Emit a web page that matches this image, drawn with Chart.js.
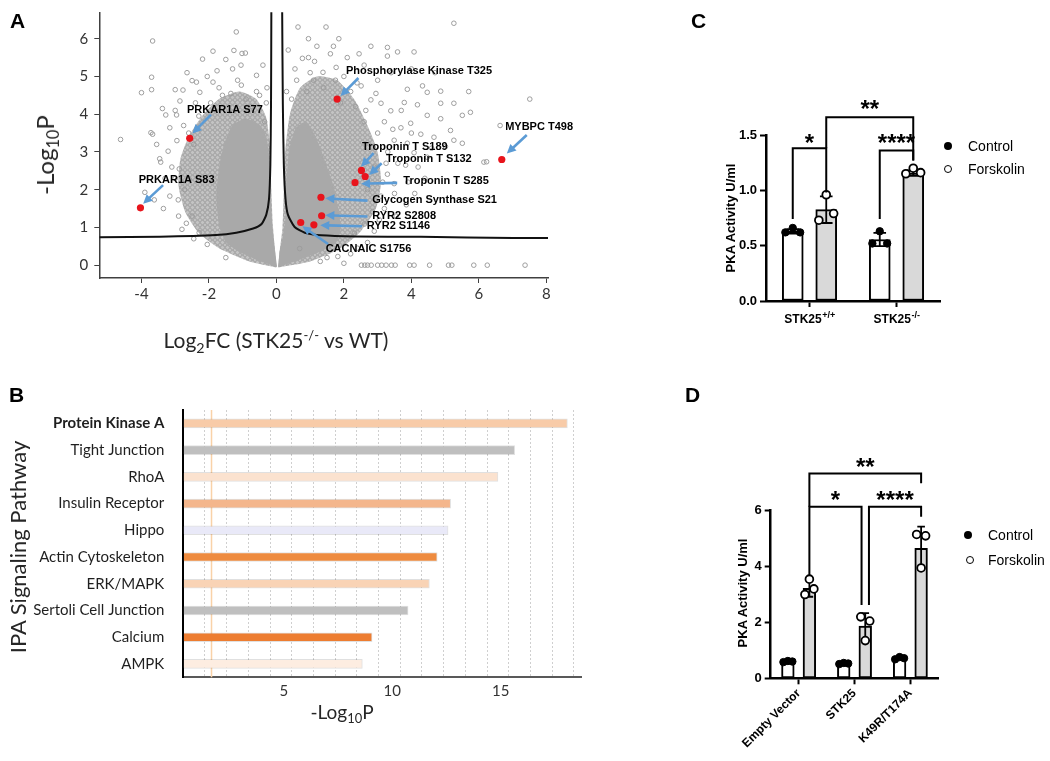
<!DOCTYPE html>
<html>
<head>
<meta charset="utf-8">
<script src="https://cdn.jsdelivr.net/npm/chart.js@4.4.1/dist/chart.umd.min.js"></script>
<style>
  body { margin: 0; width: 1050px; height: 761px; position: relative; overflow: hidden; background: #fff; font-family: "Liberation Sans", Arial, sans-serif; }
  canvas { position: absolute; }
  .t { position: absolute; white-space: nowrap; line-height: 1; }
  .rot { transform: translate(-50%, -50%) rotate(-90deg); }
  .ctr { transform: translate(-50%, -50%); }
  .sub { font-size: 0.68em; position: relative; top: 0.32em; }
  .sup { font-size: 0.62em; position: relative; top: -0.6em; }
  .panel { font: bold 21px "Liberation Sans", Arial, sans-serif; }
  .lato { font-family: Lato, "Open Sans", sans-serif; color: #262626; }
  .lg { font: 14px "Liberation Sans", Arial, sans-serif; transform: translateY(-50%); }
  .dot { position: absolute; width: 8px; height: 8px; border-radius: 50%; background: #000; transform: translate(-50%, -50%); }
  .ring { position: absolute; width: 6px; height: 6px; border-radius: 50%; border: 1.8px solid #000; background: #fff; transform: translate(-50%, -50%); }
  .ytl { font: bold 13px "Liberation Sans", Arial, sans-serif; }
</style>
</head>
<body>
<canvas id="volcano" width="600" height="380" style="left:0;top:-20px"></canvas>
<canvas id="ipa" width="600" height="401" style="left:0;top:360px"></canvas>
<canvas id="pkaC" width="370" height="360" style="left:680px;top:0"></canvas>
<canvas id="pkaD" width="370" height="401" style="left:680px;top:360px"></canvas>

<div class="t panel" style="left:10px;top:9px">A</div>
<div class="t panel" style="left:691px;top:9px">C</div>
<div class="t panel" style="left:9px;top:383px">B</div>
<div class="t panel" style="left:685px;top:383px">D</div>

<div class="t lato rot" style="left:45px;top:155px;font-size:24px">-Log<span class="sub">10</span>P</div>
<div class="t lato ctr" style="left:276px;top:340px;font-size:21px">Log<span class="sub">2</span>FC (STK25<span class="sup">-/-</span> vs WT)</div>
<div class="t lato rot" style="left:18px;top:547px;font-size:22px">IPA Signaling Pathway</div>
<div class="t lato ctr" style="left:342px;top:711px;font-size:19px">-Log<span class="sub">10</span>P</div>

<div class="t ytl rot" style="left:730px;top:218px">PKA Activity U/ml</div>
<div class="t ytl rot" style="left:742px;top:593px">PKA Activity U/ml</div>

<div class="dot" style="left:948px;top:146px"></div>
<div class="t lg" style="left:968px;top:146px">Control</div>
<div class="ring" style="left:948px;top:169px"></div>
<div class="t lg" style="left:968px;top:169px">Forskolin</div>

<div class="dot" style="left:968px;top:535px"></div>
<div class="t lg" style="left:988px;top:535px">Control</div>
<div class="ring" style="left:970px;top:560px"></div>
<div class="t lg" style="left:988px;top:560px">Forskolin</div>

<script>
// ---------- A: volcano plot ----------
const volcanoTicksX = [-4, -2, 0, 2, 4, 6, 8];
const volcanoTicksY = [0, 1, 2, 3, 4, 5, 6];

// solid core of the point cloud (outline)
const leftCoreX = [0.02, -0.50, -1.09, -1.49, -1.69, -1.78, -1.69, -1.54, -1.29, -0.90, -0.50, -0.30, -0.19, -0.16, -0.11, -0.05];
const leftCoreY = [-0.05, 0.11, 0.35, 0.60, 1.01, 1.83, 2.65, 3.23, 3.72, 3.88, 3.72, 3.39, 2.65, 1.60, 0.93, 0.43];
const rightCoreX = [0.05, 0.58, 1.27, 1.76, 1.90, 1.85, 1.70, 1.45, 1.17, 0.88, 0.58, 0.38, 0.29, 0.27, 0.19, 0.09];
const rightCoreY = [-0.05, 0.11, 0.35, 0.60, 0.93, 1.42, 2.08, 2.73, 3.39, 3.80, 3.64, 3.06, 2.08, 1.26, 0.76, 0.35];
// semi-dense fringe of overlapping sites
const leftHaloX = [0, -0.8, -1.7, -2.3, -2.7, -2.9, -2.85, -2.6, -2.2, -1.7, -1.1, -0.6, -0.3, -0.18, -0.15, -0.1, -0.04];
const leftHaloY = [-0.06, 0.1, 0.45, 0.85, 1.4, 2.1, 2.8, 3.4, 3.95, 4.4, 4.6, 4.4, 3.9, 3.0, 2.0, 1.0, 0.4];
const rightHaloX = [0.05, 1.0, 1.9, 2.5, 2.95, 3.1, 3.0, 2.7, 2.3, 1.8, 1.2, 0.7, 0.4, 0.26, 0.22, 0.18, 0.1];
const rightHaloY = [-0.06, 0.1, 0.45, 0.9, 1.5, 2.2, 3.0, 3.7, 4.4, 4.9, 5.0, 4.7, 4.0, 3.0, 2.0, 1.0, 0.4];

// individual sites outside the dense cloud [log2FC, -log10P]
const volcanoPoints = [
  [-1.19, 6.18], [-3.67, 5.94], [-1.88, 5.67], [-1.26, 5.69], [-1.02, 5.61], [-0.92, 5.62], [-2.19, 5.46], [-1.30, 5.20],
  [-1.76, 5.15], [-3.70, 4.98], [-0.59, 5.03], [-4.00, 4.57], [-3.70, 4.65], [-2.37, 4.85], [-1.88, 4.85], [-1.04, 4.77],
  [-0.59, 4.60], [-2.77, 4.64], [-2.50, 4.89], [-3.38, 4.15], [-3.28, 3.98], [-2.86, 4.35], [-2.27, 4.58], [-4.62, 3.33],
  [-3.72, 3.51], [-3.67, 3.47], [-3.16, 3.64], [-2.96, 3.98], [-3.21, 3.02], [-3.46, 2.82], [-3.43, 2.73], [-3.90, 1.93],
  [-3.62, 1.73], [-3.16, 1.83], [-2.67, 1.11], [-2.91, 1.73], [-2.29, 0.86], [-2.88, 2.55], [-2.59, 2.28], [-2.72, 2.00],
  [-2.45, 3.20], [-2.60, 3.50], [-2.10, 4.10], [-0.30, 4.30], [-0.35, 3.80], [-1.60, 4.50], [-2.95, 3.30], [-3.00, 2.30],
  [-2.50, 1.30], [-2.05, 0.55], [-1.50, 0.20], [-0.90, 4.40], [-0.50, 4.50],
  [-2.90, 1.30], [-3.10, 2.60], [-2.75, 3.70], [-2.30, 3.95], [-1.95, 4.30], [-1.70, 4.70], [-1.35, 4.55], [-1.15, 4.90],
  [-0.75, 4.20], [-0.28, 4.70], [-3.30, 2.30], [-3.55, 3.20], [-2.40, 4.30], [-3.00, 4.10], [-3.35, 1.50], [-2.80, 0.95],
  [-2.45, 0.70], [-1.05, 5.30], [-0.40, 5.30], [-1.50, 5.45], [-2.05, 5.00], [-2.65, 5.10], [-3.00, 4.65],
  [5.26, 6.41], [1.47, 6.31], [0.64, 6.31], [1.69, 5.80], [0.77, 5.48], [3.29, 5.77], [3.59, 5.65], [4.08, 5.65],
  [3.29, 5.54], [1.13, 5.40], [1.77, 5.24], [1.38, 5.11], [2.39, 4.83], [2.51, 4.75], [3.88, 4.66], [4.33, 4.75],
  [4.47, 4.58], [4.87, 4.61], [5.70, 4.60], [5.26, 4.29], [4.87, 4.29], [4.18, 4.25], [3.79, 4.31], [3.39, 4.09],
  [3.10, 4.29], [2.80, 4.38], [5.75, 4.05], [5.51, 3.97], [4.87, 3.88], [4.47, 3.97], [3.98, 3.76], [3.69, 3.64],
  [5.16, 3.57], [5.26, 3.31], [4.67, 3.39], [4.28, 3.47], [3.88, 3.23], [3.49, 3.31], [5.01, 3.14], [5.51, 3.23],
  [6.15, 2.73], [4.08, 2.98], [4.47, 2.86], [3.83, 2.65], [3.29, 2.41], [3.49, 2.16], [3.10, 1.83], [2.85, 1.42],
  [2.61, 1.09], [2.31, 0.85], [1.82, 0.23], [0.69, 0.44], [7.51, 4.40], [6.63, 3.70], [6.23, 2.74],
  [0.60, 4.90], [0.90, 4.60], [1.00, 5.10], [1.40, 4.70], [0.45, 4.40], [2.00, 5.00], [1.60, 5.60], [2.60, 5.30],
  [3.00, 4.90], [2.20, 4.60], [1.20, 5.80], [0.95, 5.50], [3.30, 3.00], [3.00, 3.50], [3.60, 2.70], [3.90, 2.20],
  [3.20, 1.50], [2.90, 0.90], [3.50, 1.90], [4.20, 2.60], [4.00, 3.50], [3.70, 4.10], [2.40, 0.45], [1.30, 0.10],
  [2.00, 0.05], [2.60, 3.80], [2.90, 2.60], [2.70, 2.00], [1.90, 4.30],
  [0.30, 4.60], [0.55, 5.20], [0.35, 5.70], [1.10, 4.90], [1.75, 4.90], [2.35, 4.20], [2.65, 4.10], [2.95, 4.55],
  [3.20, 3.80], [3.45, 3.60], [3.25, 2.70], [3.15, 2.20], [3.05, 1.20], [2.70, 0.60], [2.20, 0.30], [1.50, 0.20],
  [3.55, 1.30], [3.85, 1.60], [4.10, 1.90], [4.40, 2.30], [4.60, 3.10], [2.45, 5.60], [2.10, 5.50], [1.85, 6.00],
  [0.95, 6.00], [2.80, 5.80], [4.70, 5.10], [4.00, 5.20], [3.40, 5.10],
  [2.52, 0], [2.62, 0], [2.70, 0], [2.81, 0], [3.00, 0], [3.12, 0], [3.25, 0], [3.41, 0], [3.52, 0],
  [3.95, 0], [4.08, 0], [4.54, 0], [5.10, 0], [5.20, 0], [5.85, 0], [6.25, 0], [7.37, 0]
];

// significance threshold curves
const threshLeftX = [-5.25, -3.46, -1.78, -1.19, -0.69, -0.44, -0.30, -0.22, -0.18, -0.16, -0.15];
const threshLeftY = [0.74, 0.755, 0.80, 0.86, 0.97, 1.09, 1.34, 1.75, 2.65, 4.29, 6.80];
const threshRightX = [0.17, 0.19, 0.22, 0.27, 0.34, 0.54, 0.84, 1.33, 2.31, 4.28, 7.03, 8.05];
const threshRightY = [6.80, 4.29, 2.65, 1.75, 1.34, 1.01, 0.86, 0.79, 0.76, 0.75, 0.72, 0.72];

// highlighted PKA-related sites
const hitNames = ['PRKAR1A S83', 'PRKAR1A S77', 'Phosphorylase Kinase T325', 'MYBPC T498', 'Troponin T S189', 'Troponin T S132',
  'Troponin T S285', 'Glycogen Synthase S21', 'RYR2 S2808', 'RYR2 S1146', 'CACNAIC S1756'];
const hitX = [-4.03, -2.57, 1.80, 6.68, 2.52, 2.63, 2.33, 1.32, 1.34, 1.11, 0.72];
const hitY = [1.52, 3.36, 4.40, 2.80, 2.51, 2.35, 2.19, 1.80, 1.31, 1.07, 1.13];
// label anchor (tx, ty), arrow tail (ax, ay) and arrow head (hx, hy) in axis units
const hitNotes = [
  { tx: -4.08, ty: 2.27, ax: -3.36, ay: 2.12, hx: -3.95, hy: 1.63 },
  { tx: -2.65, ty: 4.12, ax: -1.94, ay: 3.99, hx: -2.49, hy: 3.49 },
  { tx: 2.06, ty: 5.15, ax: 2.43, ay: 4.96, hx: 1.90, hy: 4.48 },
  { tx: 6.78, ty: 3.67, ax: 7.42, ay: 3.45, hx: 6.83, hy: 2.96 },
  { tx: 2.54, ty: 3.13, ax: 2.88, ay: 2.97, hx: 2.51, hy: 2.61 },
  { tx: 3.25, ty: 2.81, ax: 3.12, ay: 2.70, hx: 2.75, hy: 2.39 },
  { tx: 3.76, ty: 2.24, ax: 3.58, ay: 2.18, hx: 2.51, hy: 2.16 },
  { tx: 2.84, ty: 1.73, ax: 2.70, ay: 1.71, hx: 1.45, hy: 1.77 },
  { tx: 2.84, ty: 1.31, ax: 2.70, ay: 1.29, hx: 1.45, hy: 1.32 },
  { tx: 2.68, ty: 1.04, ax: 2.54, ay: 1.03, hx: 1.30, hy: 1.06 },
  { tx: 1.46, ty: 0.44, ax: 1.53, ay: 0.56, hx: 0.77, hy: 1.03 }
];

// ---------- B: IPA pathways ----------
const pathways = ['Protein Kinase A', 'Tight Junction', 'RhoA', 'Insulin Receptor', 'Hippo', 'Actin Cytoskeleton',
  'ERK/MAPK', 'Sertoli Cell Junction', 'Calcium', 'AMPK'];
const pathwayLogP = [17.7, 15.27, 14.5, 12.32, 12.2, 11.7, 11.34, 10.36, 8.7, 8.25];
const pathwayColors = ['#f8cba8', '#bfbfbf', '#fbe2cf', '#f4b68c', '#e9e9f8', '#ee8b3f', '#f9d3b5', '#bfbfbf', '#ed7d31', '#fdede1'];
const ipaTickLabels = [5, 10, 15];
const ipaThreshold = 1.3;

// ---------- C: PKA activity, STK25 knockout ----------
const cGroups = ['STK25', 'STK25'];
const cGroupSup = ['+/+', '-/-'];
const cControlMean = [0.63, 0.556];
const cControlSD = [0.02, 0.06];
const cControlPts = [[0.62, 0.66, 0.62], [0.52, 0.63, 0.52]];
const cForskMean = [0.825, 1.155];
const cForskSD = [0.12, 0.025];
const cForskPts = [[0.73, 0.96, 0.79], [1.15, 1.20, 1.16]];
const cTicks = [0, 0.5, 1.0, 1.5];
const cBrackets = [
  { from: [0, 0], to: [0, 1], y: 1.38, legs: [0.74, 0.98], text: '*', textY: 1.47 },
  { from: [0, 1], to: [1, 1], y: 1.66, legs: [1.38, 1.27], text: '**', textY: 1.78 },
  { from: [1, 0], to: [1, 1], y: 1.36, legs: [0.74, 1.27], text: '****', textY: 1.47 }
];

// ---------- D: PKA activity, STK25 overexpression ----------
const dGroups = ['Empty Vector', 'STK25', 'K49R/T174A'];
const dControlMean = [0.6, 0.53, 0.72];
const dControlSD = [0.03, 0.03, 0.05];
const dControlPts = [[0.58, 0.62, 0.6], [0.51, 0.55, 0.53], [0.68, 0.76, 0.72]];
const dForskMean = [3.22, 1.87, 4.65];
const dForskSD = [0.3, 0.46, 0.78];
const dForskPts = [[3.0, 3.55, 3.2], [2.2, 1.35, 2.05], [5.15, 3.95, 5.1]];
const dTicks = [0, 2, 4, 6];
const dBrackets = [
  { from: [0, 1], to: [2, 1], y: 7.33, legs: [6.14, 6.98], text: '**', textY: 7.75 },
  { from: [0, 1], to: [1, 1, -3.7], y: 6.14, legs: [3.7, 2.62], text: '*', textY: 6.56 },
  { from: [1, 1, 3.7], to: [2, 1], y: 6.14, legs: [2.62, 5.78], text: '****', textY: 6.56 }
];

const zip = (xs, ys) => xs.map((x, i) => ({ x, y: ys[i] }));
const fixTicks = vals => s => { s.ticks = vals.map(v => ({ value: v })); };

// texture of overlapping open markers for the semi-dense fringe
function markerTexture(ctx) {
  const tile = document.createElement('canvas');
  tile.width = tile.height = 5;
  const g = tile.getContext('2d');
  g.fillStyle = '#c4c4c4';
  g.fillRect(0, 0, 5, 5);
  g.strokeStyle = '#a2a2a2';
  g.lineWidth = 1;
  g.beginPath();
  g.arc(2.5, 2.5, 2.1, 0, Math.PI * 2);
  g.stroke();
  return ctx.createPattern(tile, 'repeat');
}

// ----- plugins -----
const volcanoNotes = {
  id: 'volcanoNotes',
  afterDatasetsDraw(chart) {
    const { ctx, scales: { x, y } } = chart;
    ctx.save();
    hitNotes.forEach((n, i) => {
      const x1 = x.getPixelForValue(n.ax), y1 = y.getPixelForValue(n.ay);
      const x2 = x.getPixelForValue(n.hx), y2 = y.getPixelForValue(n.hy);
      const a = Math.atan2(y2 - y1, x2 - x1), c = Math.cos(a), s = Math.sin(a);
      ctx.strokeStyle = '#5b9bd5';
      ctx.fillStyle = '#5b9bd5';
      ctx.lineWidth = 2.6;
      ctx.beginPath();
      ctx.moveTo(x1, y1);
      ctx.lineTo(x2 - 7 * c, y2 - 7 * s);
      ctx.stroke();
      ctx.beginPath();
      ctx.moveTo(x2, y2);
      ctx.lineTo(x2 - 9 * c + 4.5 * s, y2 - 9 * s - 4.5 * c);
      ctx.lineTo(x2 - 9 * c - 4.5 * s, y2 - 9 * s + 4.5 * c);
      ctx.closePath();
      ctx.fill();
      ctx.fillStyle = '#000';
      ctx.font = 'bold 11px "Liberation Sans", Arial';
      ctx.textBaseline = 'middle';
      ctx.fillText(hitNames[i], x.getPixelForValue(n.tx), y.getPixelForValue(n.ty));
    });
    ctx.restore();
  }
};

const thresholdLine = {
  id: 'thresholdLine',
  beforeDatasetsDraw(chart) {
    const { ctx, chartArea, scales: { x } } = chart;
    const px = x.getPixelForValue(ipaThreshold);
    ctx.save();
    ctx.strokeStyle = '#f9d2a8';
    ctx.lineWidth = 1.5;
    ctx.beginPath();
    ctx.moveTo(px, chartArea.top);
    ctx.lineTo(px, chartArea.bottom);
    ctx.stroke();
    ctx.restore();
  }
};

const errorBars = {
  id: 'errorBars',
  afterDatasetDraw(chart, args) {
    const ds = chart.data.datasets[args.index];
    if (!ds.sd) return;
    const { ctx, scales: { y } } = chart;
    ctx.save();
    ctx.strokeStyle = '#000';
    ctx.lineWidth = 1.8;
    args.meta.data.forEach((bar, i) => {
      const m = ds.data[i].y, s = ds.sd[i];
      const top = y.getPixelForValue(m + s), bot = y.getPixelForValue(m - s);
      const cw = bar.width * 0.3;
      ctx.beginPath();
      ctx.moveTo(bar.x, top); ctx.lineTo(bar.x, bot);
      ctx.moveTo(bar.x - cw, top); ctx.lineTo(bar.x + cw, top);
      ctx.moveTo(bar.x - cw, bot); ctx.lineTo(bar.x + cw, bot);
      ctx.stroke();
    });
    ctx.restore();
  }
};

const brackets = {
  id: 'brackets',
  afterDraw(chart, args, opts) {
    const { ctx, scales: { x, y } } = chart;
    const px = p => x.getPixelForValue(p[0] + (p[1] ? 1 : -1) * opts.off) + (p[2] || 0);
    ctx.save();
    ctx.strokeStyle = '#000';
    ctx.fillStyle = '#000';
    ctx.lineWidth = 2;
    ctx.font = 'bold 24px "Liberation Sans", Arial';
    ctx.textAlign = 'center';
    ctx.textBaseline = 'alphabetic';
    opts.items.forEach(b => {
      const x1 = px(b.from), x2 = px(b.to), yt = y.getPixelForValue(b.y);
      ctx.beginPath();
      ctx.moveTo(x1, y.getPixelForValue(b.legs[0]));
      ctx.lineTo(x1, yt);
      ctx.lineTo(x2, yt);
      ctx.lineTo(x2, y.getPixelForValue(b.legs[1]));
      ctx.stroke();
      ctx.fillText(b.text, (x1 + x2) / 2, y.getPixelForValue(b.textY) + 13);
    });
    ctx.restore();
  }
};

const supLabels = {
  id: 'supLabels',
  afterDraw(chart, args, opts) {
    if (!opts.base) return;
    const { ctx, scales: { x } } = chart;
    ctx.save();
    ctx.fillStyle = '#000';
    ctx.textBaseline = 'alphabetic';
    opts.base.forEach((b, i) => {
      const cx = x.getPixelForValue(i);
      ctx.font = 'bold 12px "Liberation Sans", Arial';
      const w1 = ctx.measureText(b).width;
      ctx.font = 'bold 9px "Liberation Sans", Arial';
      const w2 = ctx.measureText(opts.sup[i]).width;
      const x0 = cx - (w1 + w2) / 2, yb = x.top + 22;
      ctx.font = 'bold 12px "Liberation Sans", Arial';
      ctx.fillText(b, x0, yb);
      ctx.font = 'bold 9px "Liberation Sans", Arial';
      ctx.fillText(opts.sup[i], x0 + w1 + 0.5, yb - 5);
    });
    ctx.restore();
  }
};

const base = { responsive: false, animation: false, devicePixelRatio: 1, events: [] };
const noLegend = { legend: { display: false }, tooltip: { enabled: false } };

// ----- A -----
const volcanoCanvas = document.getElementById('volcano');
const fringe = markerTexture(volcanoCanvas.getContext('2d'));
const lineSet = (xs, ys, extra) => Object.assign({ type: 'line', data: zip(xs, ys), pointRadius: 0, borderWidth: 0, tension: 0.2 }, extra);
new Chart(volcanoCanvas, {
  type: 'scatter',
  data: {
    datasets: [
      { data: zip(hitX, hitY), pointRadius: 3.6, pointBackgroundColor: '#e8141c', pointBorderWidth: 0, order: 0 },
      lineSet(threshLeftX, threshLeftY, { borderColor: '#111', borderWidth: 2, fill: false, order: 1 }),
      lineSet(threshRightX, threshRightY, { borderColor: '#111', borderWidth: 2, fill: false, order: 1 }),
      { data: volcanoPoints.map(([x, y]) => ({ x, y })), pointRadius: 2.3, pointBorderWidth: 1,
        pointBorderColor: '#9d9d9d', pointBackgroundColor: 'rgba(255,255,255,0)', order: 2 },
      lineSet(leftCoreX, leftCoreY, { fill: 'shape', backgroundColor: '#a9a9a9', order: 3 }),
      lineSet(rightCoreX, rightCoreY, { fill: 'shape', backgroundColor: '#a9a9a9', order: 3 }),
      lineSet(leftHaloX, leftHaloY, { fill: 'shape', backgroundColor: fringe, order: 4 }),
      lineSet(rightHaloX, rightHaloY, { fill: 'shape', backgroundColor: fringe, order: 4 })
    ]
  },
  options: Object.assign({}, base, {
    layout: { padding: { left: 0, top: 32.3, right: 52, bottom: 42 } },
    plugins: noLegend,
    scales: {
      x: {
        type: 'linear', min: -5.25, max: 8.05,
        afterBuildTicks: fixTicks(volcanoTicksX),
        afterFit: s => { s.height = 40; },
        grid: { drawOnChartArea: false, tickLength: 5, tickColor: '#404040' },
        border: { color: '#404040', width: 1.5 },
        ticks: { font: { family: 'Lato', size: 15 }, color: '#333', padding: 2, maxRotation: 0 }
      },
      y: {
        type: 'linear', min: -0.34, max: 6.7,
        afterBuildTicks: fixTicks(volcanoTicksY),
        afterFit: s => { s.width = 99.3; },
        grid: { drawOnChartArea: false, tickLength: 5, tickColor: '#404040' },
        border: { color: '#404040', width: 1.5 },
        ticks: { font: { family: 'Lato', size: 15 }, color: '#333', padding: 6 }
      }
    }
  }),
  plugins: [volcanoNotes]
});

// ----- B -----
new Chart(document.getElementById('ipa'), {
  type: 'bar',
  data: {
    labels: pathways,
    datasets: [{ data: pathwayLogP, backgroundColor: pathwayColors, borderColor: 'rgba(0,0,0,0.12)', borderWidth: 1, barThickness: 9 }]
  },
  options: Object.assign({}, base, {
    indexAxis: 'y',
    layout: { padding: { left: 0, top: 50, right: 18.3, bottom: 53.7 } },
    plugins: noLegend,
    scales: {
      x: {
        min: 0, max: 18.36,
        afterBuildTicks: s => { s.ticks = Array.from({ length: 19 }, (_, i) => ({ value: i })); },
        afterFit: s => { s.height = 30; },
        grid: { color: '#cfcfcf', lineWidth: 1, drawTicks: false },
        border: { color: '#595959', width: 2, dash: [2, 2] },
        ticks: {
          callback: v => (ipaTickLabels.includes(v) ? v : ''),
          font: { family: 'Lato', size: 15 }, color: '#333', padding: 5, labelOffset: -8, maxRotation: 0, autoSkip: false
        }
      },
      y: {
        afterFit: s => { s.width = 183.3; },
        grid: { display: false },
        border: { color: '#000', width: 2 },
        ticks: {
          font: c => ({ family: 'Lato', size: 15, weight: c.index === 0 ? 'bold' : 'normal' }),
          color: '#1f1f1f', padding: 11
        }
      }
    }
  }),
  plugins: [thresholdLine]
});

// ----- C and D -----
// bars, error bars and replicate points all sit on one linear x axis (group index)
function pkaChart(id, o) {
  const off = 0.77 / 4;
  const spread = [-1, 0, 1];
  const barSet = (label, mean, sd, side, fill) => ({
    label, data: mean.map((v, g) => ({ x: g + side * off, y: v })), sd,
    backgroundColor: fill, borderColor: '#000', borderWidth: 2, borderSkipped: false,
    barThickness: o.barPx, grouped: false, order: 2
  });
  const pts = (groups, side) => groups.flatMap((vals, g) => vals.map((v, k) => ({ x: g + side * off + spread[k] * o.jit, y: v })));
  return new Chart(document.getElementById(id), {
    type: 'bar',
    data: {
      datasets: [
        barSet('Control', o.ctrlMean, o.ctrlSD, -1, '#ffffff'),
        barSet('Forskolin', o.fskMean, o.fskSD, 1, '#d9d9d9'),
        { type: 'scatter', data: pts(o.ctrlPts, -1), pointRadius: 3.7,
          pointBackgroundColor: '#000', pointBorderColor: '#000', pointBorderWidth: 1, order: 1 },
        { type: 'scatter', data: pts(o.fskPts, 1), pointRadius: 3.9,
          pointBackgroundColor: '#fff', pointBorderColor: '#000', pointBorderWidth: 1.8, order: 1 }
      ]
    },
    options: Object.assign({}, base, {
      layout: { padding: o.padding },
      plugins: Object.assign({ brackets: { items: o.brackets, off }, supLabels: o.sup || {} }, noLegend),
      scales: {
        x: {
          type: 'linear', min: -0.5, max: o.labels.length - 0.5, offset: false,
          afterBuildTicks: fixTicks(o.labels.map((_, i) => i)),
          afterFit: s => { s.height = o.xHeight; },
          grid: { offset: false, drawOnChartArea: false, tickLength: 6, tickWidth: 2, tickColor: '#000' },
          border: { color: '#000', width: 2.5 },
          ticks: Object.assign({ callback: v => o.labels[v], font: { family: 'Liberation Sans', size: 12, weight: 'bold' }, color: '#000', autoSkip: false }, o.xTicks)
        },
        y: {
          min: 0, max: o.max,
          afterBuildTicks: fixTicks(o.ticks),
          afterFit: s => { s.width = o.yWidth; },
          grid: { drawOnChartArea: false, tickLength: 6, tickWidth: 2, tickColor: '#000' },
          border: { color: '#000', width: 2.5 },
          ticks: { callback: o.fmt, font: { family: 'Liberation Sans', size: 13, weight: 'bold' }, color: '#000', padding: 3 }
        }
      }
    }),
    plugins: [errorBars, brackets, supLabels]
  });
}

pkaChart('pkaC', {
  labels: cGroups, barPx: 21, jit: 0.085, max: 1.5, ticks: cTicks, fmt: v => v.toFixed(1),
  ctrlMean: cControlMean, ctrlSD: cControlSD, ctrlPts: cControlPts,
  fskMean: cForskMean, fskSD: cForskSD, fskPts: cForskPts,
  brackets: cBrackets, sup: { base: cGroups, sup: cGroupSup },
  padding: { left: 0, top: 135, right: 110, bottom: 19 }, xHeight: 40, yWidth: 86,
  xTicks: { callback: () => '', padding: 2, maxRotation: 0 }
});

pkaChart('pkaD', {
  labels: dGroups, barPx: 12.7, jit: 0.08, max: 6, ticks: dTicks, fmt: v => v,
  ctrlMean: dControlMean, ctrlSD: dControlSD, ctrlPts: dControlPts,
  fskMean: dForskMean, fskSD: dForskSD, fskPts: dForskPts,
  brackets: dBrackets,
  padding: { left: 0, top: 150.7, right: 111.7, bottom: 12.7 }, xHeight: 70, yWidth: 90.7,
  xTicks: { minRotation: 45, maxRotation: 45, padding: 2 }
});
</script>
</body>
</html>
